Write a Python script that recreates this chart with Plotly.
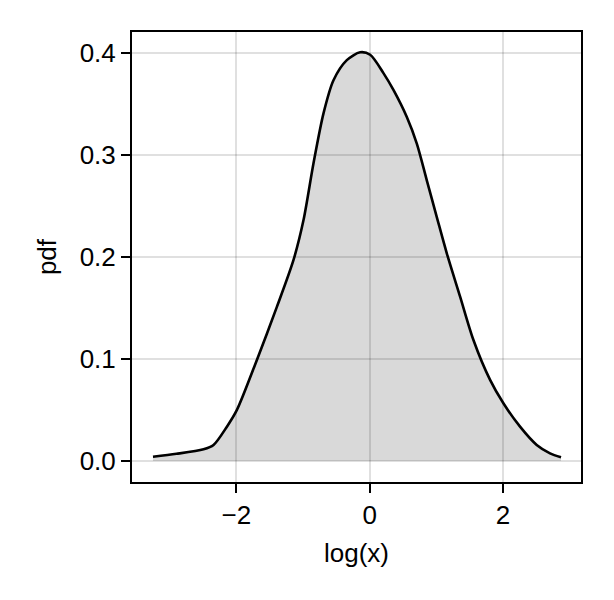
import plotly.graph_objects as go

log_x = [-3.253, -2.9, -2.494, -2.344, -2.143, -1.993, -1.693, -1.393, -1.143, -0.993,
         -0.843, -0.693, -0.543, -0.343, -0.143, 0.0075, 0.207, 0.357, 0.558, 0.708,
         0.858, 1.008, 1.158, 1.358, 1.558, 1.808, 2.008, 2.258, 2.508, 2.708, 2.873]
pdf = [0.0042, 0.0070, 0.0115, 0.0157, 0.0336, 0.050, 0.099, 0.151, 0.197, 0.236,
       0.2917, 0.3406, 0.373, 0.3927, 0.4004, 0.398, 0.380, 0.3635, 0.337, 0.311,
       0.275, 0.239, 0.2035, 0.161, 0.1185, 0.0794, 0.0565, 0.0336, 0.0157, 0.0075, 0.0036]

x_ticks = [-2, 0, 2]
x_tick_text = ["−2", "0", "2"]
y_ticks = [0.0, 0.1, 0.2, 0.3, 0.4]
y_tick_text = ["0.0", "0.1", "0.2", "0.3", "0.4"]

fig = go.Figure()
fig.add_trace(go.Scatter(
    x=log_x, y=pdf, mode="lines", fill="tozeroy",
    fillcolor="rgba(0,0,0,0.15)",
    line=dict(color="black", width=2.6, shape="spline", smoothing=0.8),
    showlegend=False,
))

font = dict(family="Liberation Sans, Arial, sans-serif", size=26, color="black")
axis_common = dict(
    showline=True, linecolor="black", linewidth=2, mirror=True,
    ticks="outside", ticklen=9, tickwidth=1.5, tickcolor="black",
    showgrid=True, gridcolor="rgba(0,0,0,0.12)", gridwidth=1.5,
    zeroline=False, tickfont=font,
)
fig.update_layout(
    width=606, height=592,
    margin=dict(l=124, r=33, t=24, b=118),
    paper_bgcolor="white", plot_bgcolor="white",
    font=font,
    xaxis=dict(range=[-3.568, 3.173], tickvals=x_ticks, ticktext=x_tick_text,
               title=dict(text="log(x)", font=font, standoff=15), **axis_common),
    yaxis=dict(range=[-0.0206, 0.4203], tickvals=y_ticks, ticktext=y_tick_text,
               title=dict(text="pdf", font=font, standoff=16), **axis_common),
)
fig.write_html("out.html")
